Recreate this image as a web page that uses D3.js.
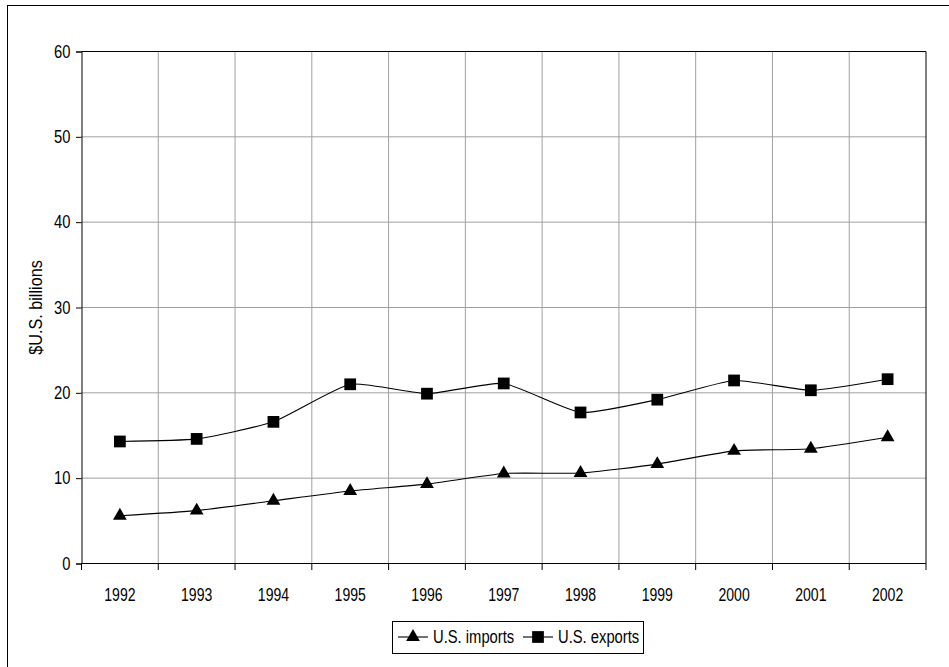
<!DOCTYPE html>
<html>
<head>
<meta charset="utf-8">
<script src="https://cdn.jsdelivr.net/npm/d3@7"></script>
<style>
  body { margin: 0; background: #fff; }
  text { font-family: "Liberation Sans", Arial, sans-serif; fill: #000; }
</style>
</head>
<body>
<div id="chart"></div>
<script>
var years = ["1992", "1993", "1994", "1995", "1996", "1997", "1998", "1999", "2000", "2001", "2002"];
var imports = [5.6, 6.2, 7.35, 8.5, 9.3, 10.55, 10.6, 11.65, 13.2, 13.45, 14.8];
var exports = [14.3, 14.6, 16.6, 21.0, 19.9, 21.1, 17.7, 19.2, 21.45, 20.3, 21.6];
var yTicks = [0, 10, 20, 30, 40, 50, 60];

var W = 949, H = 667;
var plot = {left: 81.5, right: 926, top: 51.5, bottom: 563.5};

// the original font is a condensed one, squeeze the text horizontally
function narrow(sel, f) {
    sel.each(function() {
        var len = this.getComputedTextLength();
        d3.select(this).attr("textLength", len * f).attr("lengthAdjust", "spacingAndGlyphs");
    });
}

var svg = d3.select("#chart").append("svg")
    .attr("width", W)
    .attr("height", H);

// outer chart frame (runs off the right and bottom edges)
svg.append("rect")
    .attr("x", 7.5).attr("y", 5.5)
    .attr("width", W + 20).attr("height", H + 20)
    .attr("fill", "none").attr("stroke", "#000");

var x = d3.scaleBand().domain(years).range([plot.left, plot.right]);
var y = d3.scaleLinear().domain([0, 60]).range([plot.bottom, plot.top]);

// grid lines
svg.append("g").selectAll("line.h")
    .data(yTicks.slice(1, -1))
    .enter().append("line")
    .attr("x1", plot.left).attr("x2", plot.right)
    .attr("y1", function(d) { return y(d); })
    .attr("y2", function(d) { return y(d); })
    .attr("stroke", "#a0a0a0");

svg.append("g").selectAll("line.v")
    .data(years.slice(1))
    .enter().append("line")
    .attr("x1", function(d) { return x(d); })
    .attr("x2", function(d) { return x(d); })
    .attr("y1", plot.top).attr("y2", plot.bottom)
    .attr("stroke", "#a0a0a0");

// plot border top / right
svg.append("path")
    .attr("d", "M" + plot.left + "," + plot.top + "H" + plot.right + "V" + plot.bottom)
    .attr("fill", "none").attr("stroke", "#000");

// y axis
var yAxis = svg.append("g")
    .attr("transform", "translate(" + plot.left + ",0)")
    .call(d3.axisLeft(y).tickValues(yTicks).tickSize(5.5).tickPadding(5.5));
yAxis.selectAll("text").style("font-size", "18px").attr("font-family", null).call(narrow, 0.82);
yAxis.selectAll("path, line").attr("stroke", "#000");

// x axis: labels at centres, ticks on the category boundaries
var xAxis = svg.append("g")
    .attr("transform", "translate(0," + plot.bottom + ")")
    .call(d3.axisBottom(x).tickSize(0).tickPadding(25));
xAxis.select(".domain").remove();
xAxis.selectAll("text").style("font-size", "18px").attr("font-family", null).call(narrow, 0.78);

svg.append("line")
    .attr("x1", plot.left).attr("x2", plot.right)
    .attr("y1", plot.bottom).attr("y2", plot.bottom)
    .attr("stroke", "#000");

svg.append("g").selectAll("line")
    .data(years.concat(["end"]))
    .enter().append("line")
    .attr("x1", function(d) { return d === "end" ? plot.right : x(d); })
    .attr("x2", function(d) { return d === "end" ? plot.right : x(d); })
    .attr("y1", plot.bottom).attr("y2", plot.bottom + 6.5)
    .attr("stroke", "#000");

svg.append("text")
    .attr("transform", "translate(42," + ((plot.top + plot.bottom) / 2) + ") rotate(-90)")
    .attr("text-anchor", "middle")
    .style("font-size", "18px")
    .text("$U.S. billions")
    .call(narrow, 0.9);

// series, lightly smoothed like the original
var cx = function(d, i) { return x(years[i]) + x.bandwidth() / 2; };
var line = d3.line()
    .x(cx)
    .y(function(d) { return y(d); })
    .curve(d3.curveCardinal.tension(0.5));

var tri = d3.symbol().type(d3.symbolTriangle).size(82);
var sq = d3.symbol().type(d3.symbolSquare).size(138);

var series = [
    {name: "U.S. imports", values: imports, marker: tri},
    {name: "U.S. exports", values: exports, marker: sq}
];

series.forEach(function(s) {
    svg.append("path")
        .datum(s.values)
        .attr("d", line)
        .attr("fill", "none")
        .attr("stroke", "#000")
        .attr("stroke-width", 1.1);

    svg.append("g").selectAll("path")
        .data(s.values)
        .enter().append("path")
        .attr("d", s.marker)
        .attr("transform", function(d, i) { return "translate(" + cx(d, i) + "," + y(d) + ")"; })
        .attr("fill", "#000");
});

// legend
var legend = svg.append("g");
legend.append("rect")
    .attr("x", 392.5).attr("y", 621.5)
    .attr("width", 251).attr("height", 32)
    .attr("fill", "#fff").attr("stroke", "#000");

var legendX = [398, 523];
series.forEach(function(s, i) {
    var g = legend.append("g").attr("transform", "translate(" + legendX[i] + ",637)");
    g.append("line").attr("x1", 0).attr("x2", 30).attr("stroke", "#000").attr("stroke-width", 1.1);
    g.append("path").attr("d", s.marker).attr("transform", "translate(15,0)").attr("fill", "#000");
    g.append("text")
        .attr("x", 35).attr("dy", "0.35em")
        .style("font-size", "18px")
        .text(s.name)
        .call(narrow, 0.82);
});
</script>
</body>
</html>
